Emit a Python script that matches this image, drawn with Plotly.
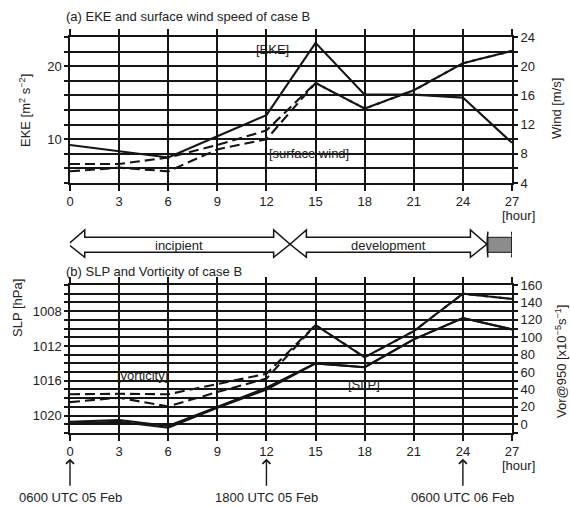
import plotly.graph_objects as go

# ---------------- data ----------------
hours = [0, 3, 6, 9, 12, 15, 18, 21, 24, 27]
hour_ticks = [0, 3, 6, 9, 12, 15, 18, 21, 24, 27]

eke = [9.2, 8.3, 7.5, 10.4, 13.3, 23.2, 16.1, 16.1, 15.7, 9.5]
wind_a = [6.6, 6.6, 7.5, 9.2, 11.2, 17.7, 14.2, 16.7, 20.4, 22.1]
wind_b = [5.6, 6.1, 5.6, 8.6, 10.0, 17.7, 14.2, 16.7, 20.4, 22.1]

slp_a = [1020.7, 1020.5, 1021.2, 1019.0, 1016.8, 1014.0, 1014.45, 1011.25, 1008.8, 1010.1]
slp_b = [1020.9, 1020.7, 1021.4, 1019.1, 1017.0, 1014.0, 1014.45, 1011.25, 1008.8, 1010.1]
vor_a = [34.5, 35.0, 34.5, 46.0, 58.0, 114.0, 77.0, 107.0, 150.0, 144.0]
vor_b = [25.5, 30.5, 20.5, 37.0, 52.5, 114.0, 77.0, 107.0, 150.0, 144.0]

eke_ticks = [10, 20]
wind_ticks = [4, 8, 12, 16, 20, 24]
slp_ticks = [1008, 1012, 1016, 1020]
vor_ticks = [0, 20, 40, 60, 80, 100, 120, 140, 160]

phase_names = ["incipient", "development"]
phase_start = [-0.1, 13.44]
phase_end = [13.44, 25.46]
mature_start, mature_end = 25.53, 26.98

mark_hours = [0, 12, 24]
mark_labels = ["0600 UTC 05 Feb", "1800 UTC 05 Feb", "0600 UTC 06 Feb"]

# ---------------- style ----------------
W, H = 570, 506
MT, MB, ML, MR = 37, 73, 70, 58
PH = H - MT - MB
PW = W - ML - MR
def py(px):
    return (H - MB - px) / PH
def pxx(px):
    return (px - ML) / PW

INK = "#151515"
TXT = "#222222"
FONT = "Liberation Sans, Arial, sans-serif"
GW = 1.5
LW = 2.1
DASH = "10px,5px"

fig = go.Figure()
fig.add_trace(go.Scatter(x=hours, y=eke, xaxis="x", yaxis="y", mode="lines",
                         line=dict(color=INK, width=LW)))
fig.add_trace(go.Scatter(x=hours, y=wind_a, xaxis="x", yaxis="y2", mode="lines",
                         line=dict(color=INK, width=LW, dash=DASH)))
fig.add_trace(go.Scatter(x=hours, y=wind_b, xaxis="x", yaxis="y2", mode="lines",
                         line=dict(color=INK, width=LW, dash=DASH)))
fig.add_trace(go.Scatter(x=hours, y=slp_a, xaxis="x2", yaxis="y3", mode="lines",
                         line=dict(color=INK, width=LW)))
fig.add_trace(go.Scatter(x=hours, y=slp_b, xaxis="x2", yaxis="y3", mode="lines",
                         line=dict(color=INK, width=LW)))
fig.add_trace(go.Scatter(x=hours, y=vor_a, xaxis="x2", yaxis="y4", mode="lines",
                         line=dict(color=INK, width=LW, dash=DASH)))
fig.add_trace(go.Scatter(x=hours, y=vor_b, xaxis="x2", yaxis="y4", mode="lines",
                         line=dict(color=INK, width=LW, dash=DASH)))

tickfont = dict(family=FONT, size=13, color=TXT)

def xax(anchor):
    return dict(domain=[0, 1], anchor=anchor, range=[0, 27], tickmode="array",
                tickvals=hour_ticks, showgrid=True, gridcolor=INK, gridwidth=GW,
                ticks="outside", ticklen=6, tickwidth=GW, tickcolor=INK,
                showline=True, linecolor=INK, linewidth=GW, mirror="ticks",
                zeroline=False, tickfont=tickfont)

def yleft(domain, anchor, rng, tv, minor_dtick, minor_t0):
    return dict(domain=domain, anchor=anchor, range=rng, autorange=False,
                tickmode="array", tickvals=tv, showgrid=True, gridcolor=INK,
                gridwidth=GW, ticks="outside", ticklen=4, tickwidth=GW, tickcolor=INK,
                minor=dict(tickmode="linear", tick0=minor_t0, dtick=minor_dtick,
                           ticks="outside", ticklen=4, tickwidth=GW, tickcolor=INK,
                           showgrid=True, gridcolor=INK, gridwidth=GW),
                showline=True, linecolor=INK, linewidth=GW, mirror=True,
                zeroline=False, tickfont=tickfont)

def yright(over, anchor, rng, tv, minor_dtick, minor_t0):
    return dict(overlaying=over, side="right", anchor=anchor, range=rng, autorange=False,
                tickmode="array", tickvals=tv, showgrid=False, ticks="outside",
                ticklen=5, tickwidth=GW, tickcolor=INK,
                minor=dict(tickmode="linear", tick0=minor_t0, dtick=minor_dtick,
                           ticks="outside", ticklen=5, tickwidth=GW, tickcolor=INK,
                           showgrid=False),
                showline=False, zeroline=False, tickfont=tickfont)

top_dom = [py(183), 1.0]
bot_dom = [0.0, py(285)]

fig.update_layout(
    width=W, height=H, margin=dict(l=ML, r=MR, t=MT, b=MB),
    paper_bgcolor="white", plot_bgcolor="white", showlegend=False,
    font=dict(family=FONT, size=13, color=TXT),
    xaxis=xax("y"),
    xaxis2=xax("y3"),
    yaxis=yleft(top_dom, "x", [4, 24], eke_ticks, 2, 0),
    yaxis2=yright("y", "x", [4, 24], wind_ticks, 2, 0),
    yaxis3=yleft(bot_dom, "x2", [1022, 1005], slp_ticks, 1, 1000),
    yaxis4=yright("y3", "x2", [-10, 160], vor_ticks, 10, 0),
)

ann = []
def text(x, y, s, xref="paper", yref="paper", xanchor="center", angle=0, size=13):
    ann.append(dict(x=x, y=y, xref=xref, yref=yref, text=s, showarrow=False,
                    xanchor=xanchor, yanchor="middle", textangle=angle,
                    font=dict(family=FONT, size=size, color=TXT)))

# panel titles
text(pxx(64), py(17), "(a) EKE and surface wind speed of case B", xanchor="left")
text(pxx(64), py(271.5), "(b) SLP and Vorticity of case B", xanchor="left")
# axis titles
text(pxx(25), py(111), "EKE [m<sup>2</sup> s<sup>−2</sup>]", angle=-90)
text(pxx(557), py(109), "Wind [m/s]", angle=-90)
text(pxx(17), py(308), "SLP [hPa]", angle=-90)
text(pxx(561), py(362), "Vor@950 [x10<sup>−5</sup>s<sup>−1</sup>]", angle=-90)
# [hour]
text(pxx(518), py(215.5), "[hour]")
text(pxx(518), py(465.5), "[hour]")
# in-plot labels
text(12.4, 22.3, "[EKE]", xref="x", yref="y")
text(14.6, 8.0, "[surface wind]", xref="x", yref="y")
text(4.45, 1015.45, "[vorticity]", xref="x2", yref="y3")
text(17.95, 1016.4, "[SLP]", xref="x2", yref="y3")

# phase arrows
y_ht, y_st, y_c, y_sb, y_hb = py(230), py(237.3), py(244.3), py(252.3), py(257.3)
HL = 1.0
shapes = []
for name, a, b in zip(phase_names, phase_start, phase_end):
    path = (f"M{a},{y_c} L{a+HL},{y_ht} L{a+HL},{y_st} L{b-HL},{y_st} L{b-HL},{y_ht} "
            f"L{b},{y_c} L{b-HL},{y_hb} L{b-HL},{y_sb} L{a+HL},{y_sb} L{a+HL},{y_hb} Z")
    shapes.append(dict(type="path", path=path, xref="x", yref="paper",
                       fillcolor="white", line=dict(color=INK, width=1.5)))
    text((a + b) / 2, py(245), name, xref="x", yref="paper")
shapes.append(dict(type="rect", x0=mature_start, x1=mature_end, y0=y_sb, y1=y_st,
                   xref="x", yref="paper", fillcolor="#8c8c8c",
                   line=dict(color=INK, width=1)))
for xe, d in ((mature_start, -0.1), (mature_end, 0.1)):
    shapes.append(dict(type="path", xref="x", yref="paper",
                       path=f"M{xe},{py(231.7)} Q{xe + d},{y_c} {xe},{py(257.3)}",
                       line=dict(color=INK, width=1.5)))

# time markers
for h, lab in zip(mark_hours, mark_labels):
    ann.append(dict(x=h, y=py(458.7), xref="x2", yref="paper", text=lab,
                    showarrow=True, ax=0, ay=39, arrowhead=4, arrowsize=1.1,
                    arrowwidth=1.4, arrowcolor=INK, startstandoff=3,
                    font=dict(family=FONT, size=13, color=TXT)))

fig.update_layout(annotations=ann, shapes=shapes)
fig.write_html("out.html", config={"displayModeBar": False},
               post_script="document.body.style.margin='0';document.body.style.overflow='hidden';")
